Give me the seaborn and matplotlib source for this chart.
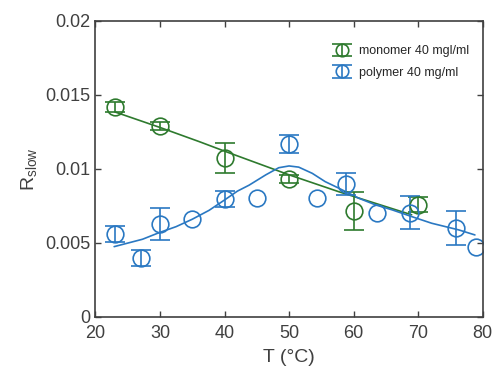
import matplotlib
matplotlib.use("Agg")
import matplotlib.pyplot as plt
import numpy as np
import pandas as pd
import seaborn as sns

# monomer 40 mg/ml
mono_T = [23, 30, 40, 50, 60, 70]
mono_R = [0.01420, 0.01290, 0.01074, 0.00932, 0.00716, 0.00757]
mono_err = [0.00035, 0.00030, 0.00100, 0.00030, 0.00130, 0.00050]

# polymer 40 mg/ml
poly_T = [23, 27, 30, 35, 40, 45, 50, 54.3, 58.8, 63.7, 68.8, 75.8, 78.9]
poly_R = [0.00560, 0.00400, 0.00628, 0.00662, 0.00797, 0.00802, 0.01169,
          0.00804, 0.00899, 0.00703, 0.00703, 0.00601, 0.00473]
poly_err = [0.00054, 0.00054, 0.00111, np.nan, 0.00051, np.nan, 0.00060,
            np.nan, 0.00075, np.nan, 0.00111, 0.00118, np.nan]

# fit curves
mono_fit_T = [23, 30, 36.1, 40, 50, 57.7, 69]
mono_fit_R = [0.01385, 0.01280, 0.01184, 0.01120, 0.00960, 0.00846, 0.00690]
poly_fit_T = [22.9, 27.3, 29.9, 32.5, 35.0, 37.6, 40.0, 42.0, 43.8, 46.4, 48.4,
              50.0, 51.5, 53.6, 55.6, 57.7, 60.8, 63.4, 66.0, 69.0, 72.1, 76.3, 78.8]
poly_fit_R = [0.00475, 0.00525, 0.00570, 0.00610, 0.00660, 0.00720, 0.00790,
              0.00850, 0.00890, 0.00960, 0.01008, 0.01020, 0.01012, 0.00970,
              0.00914, 0.00870, 0.00802, 0.00757, 0.00723, 0.00678, 0.00633,
              0.00588, 0.00554]

green = "#2e7a2e"
blue = "#2a78c2"
grey = "#404040"

sns.set_style("ticks")
plt.rcParams["font.family"] = ["Liberation Sans", "DejaVu Sans"]
plt.rcParams["mathtext.fontset"] = "custom"
plt.rcParams["mathtext.rm"] = "Liberation Sans"

fig = plt.figure(figsize=(4.92, 3.66), dpi=100)
ax = fig.add_axes([0.194, 0.134, 0.787, 0.809])

sns.lineplot(x=mono_fit_T, y=mono_fit_R, color=green, lw=1.2, ax=ax, sort=False)
sns.lineplot(x=poly_fit_T, y=poly_fit_R, color=blue, lw=1.2, ax=ax, sort=False)

ax.errorbar(mono_T, mono_R, yerr=mono_err, fmt="o", ms=12, mfc="none",
            mec=green, color=green, ecolor=green, elinewidth=1.2, capsize=7,
            capthick=1.2, mew=1.2, label="monomer 40 mgl/ml")
ax.errorbar(poly_T, poly_R, yerr=poly_err, fmt="o", ms=12, mfc="none",
            mec=blue, color=blue, ecolor=blue, elinewidth=1.2, capsize=7,
            capthick=1.2, mew=1.2, label="polymer 40 mg/ml")

ax.set_xlim(20, 80)
ax.set_ylim(0, 0.02)
ax.set_xticks([20, 30, 40, 50, 60, 70, 80])
ax.set_yticks([0, 0.005, 0.01, 0.015, 0.02])
ax.set_yticklabels(["0", "0.005", "0.01", "0.015", "0.02"])
ax.tick_params(direction="in", length=4, width=1, colors=grey, labelsize=13,
               top=True, right=True, labeltop=False, labelright=False)
ax.tick_params(axis="x", pad=6)
for s in ax.spines.values():
    s.set_color(grey)
    s.set_linewidth(1.2)
ax.set_xlabel("T (°C)", fontsize=14, color=grey, labelpad=5)
ax.set_ylabel(r"R$_{\mathrm{slow}}$", fontsize=14, color=grey)

leg = ax.legend(loc="upper right", frameon=False, fontsize=9, markerscale=0.75,
                bbox_to_anchor=(0.995, 0.955), handletextpad=0.6,
                labelspacing=0.75, handlelength=1.6)

fig.savefig("out.png", dpi=100)
